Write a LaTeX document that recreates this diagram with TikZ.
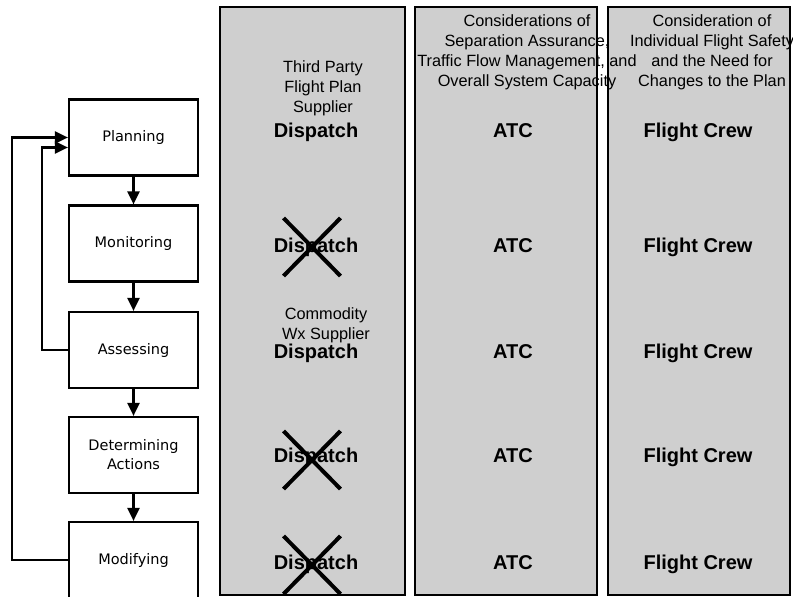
\documentclass[tikz,border=0pt]{standalone}
\usepackage{fontspec}
\setmainfont{Liberation Sans}
\newfontfamily\boxfont{DejaVu Sans}
\usetikzlibrary{arrows.meta}
\definecolor{lanegray}{RGB}{207,207,207}
\begin{document}
\begin{tikzpicture}[x=1pt,y=-1pt,
  lane/.style={draw=black, fill=lanegray, line width=2.5pt},
  stepbox/.style={draw=black, line width=2.2pt, minimum width=129pt, minimum height=76pt,
    align=center, inner sep=0pt, font=\boxfont\fontsize{14.5}{19}\selectfont},
  hdr/.style={font=\fontsize{16.3}{19.8}\selectfont, align=center, anchor=base, inner sep=0pt},
  role/.style={font=\bfseries\fontsize{20}{24}\selectfont, anchor=base, inner sep=0pt},
  flow/.style={line width=2.2pt, -{Triangle[length=13pt,width=12pt]}},
  strike/.style={line width=4pt},
  crossmark/.pic={\draw[strike] (-28.5,-29) -- (28.5,29) (-28.5,29) -- (28.5,-29);}
]
\useasboundingbox (0,0) rectangle (793,597);

% the three responsibility lanes
\path[lane] (220,7) rectangle (405,595);
\path[lane] (415,7) rectangle (597,595);
\path[lane] (608,7) rectangle (790,595);

% process steps
\node[stepbox] (plan)   at (133.5,137.5) {Planning};
\node[stepbox] (mon)    at (133.5,243.5) {Monitoring};
\node[stepbox] (assess) at (133.5,350)   {Assessing};
\node[stepbox] (det)    at (133.5,455)   {Determining\\Actions};
\node[stepbox] (mod)    at (133.5,560)   {Modifying};

\draw[flow] (plan.south) -- (mon.north);
\draw[flow] (mon.south) -- (assess.north);
\draw[flow] (assess.south) -- (det.north);
\draw[flow] (det.south) -- (mod.north);

% feedback loops back to planning
\draw[flow] (mod.west) -- ++(-56,0) |- (plan.west);
\draw[flow] (assess.west) -- ++(-26,0) |- ([yshift=-10pt]plan.west);

% lane headers (anchored at the baseline of their last line)
\node[hdr] (h1) at (323,112) {Third Party\\Flight Plan\\Supplier};
\node[hdr] (h2) at (527,86)  {Considerations of\\Separation Assurance,\\Traffic Flow Management, and\\Overall System Capacity};
\node[hdr] (h3) at (712,86)  {Consideration of\\Individual Flight Safety\\and the Need for\\Changes to the Plan};
\node[hdr] (h4) at (326,339) {Commodity\\Wx Supplier};

% role labels per step
\foreach \y/\n in {137/1,252/2,358/3,462/4,569/5}{
  \node[role] (d\n) at (316,\y) {Dispatch};
  \node[role] (a\n) at (513,\y) {ATC};
  \node[role] (f\n) at (698,\y) {Flight Crew};
}

% dispatch not involved
\pic at (312,247) {crossmark};
\pic at (312,460) {crossmark};
\pic at (312,565) {crossmark};
\end{tikzpicture}
\end{document}
